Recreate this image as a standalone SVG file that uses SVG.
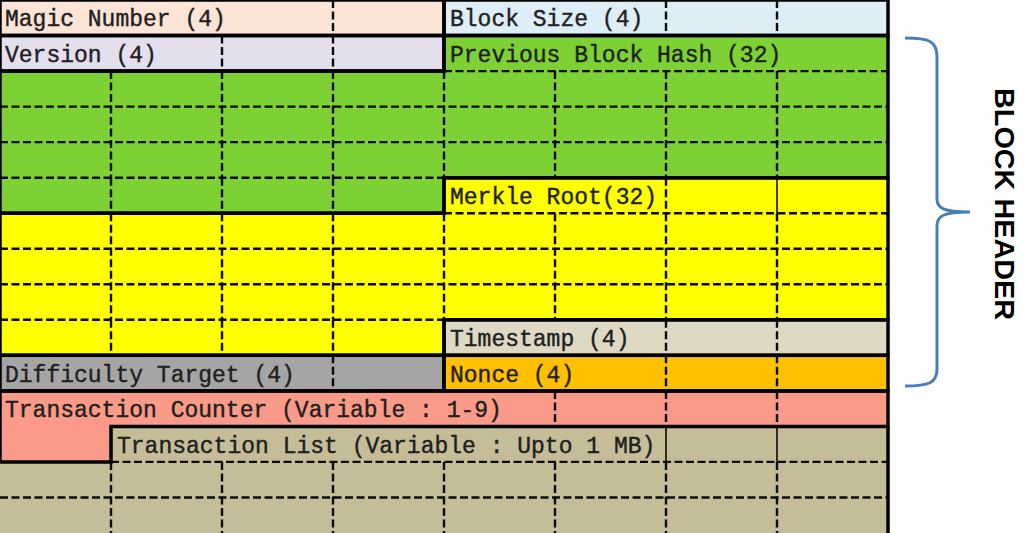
<svg xmlns="http://www.w3.org/2000/svg" width="1025" height="533" viewBox="0 0 1025 533">
<style>
.fld{stroke:#000;stroke-width:3.5;stroke-linejoin:miter}
.lbl{font-family:"Liberation Mono","DejaVu Sans Mono",monospace;font-size:23px;fill:#1f1f1f;stroke:#1f1f1f;stroke-width:0.4}
.d{stroke:#0a0a0a;stroke-width:2.4;stroke-dasharray:8 3.5;fill:none}
.s{stroke:#000;stroke-width:1.5;fill:none}
</style>
<rect x="0" y="0" width="1025" height="533" fill="#fff"/>
<g id="fills">
<rect x="0" y="0" width="444" height="35.5" fill="#FCE4D6"/>
<rect x="444" y="0" width="444" height="35.5" fill="#DDEEF6"/>
<rect x="0" y="35.5" width="444" height="35.6" fill="#E4DFEC"/>
<polygon points="444,35.5 888,35.5 888,177.7 444,177.7 444,213.2 0,213.2 0,71.1 444,71.1" fill="#7DD134"/>
<polygon points="444,177.7 888,177.7 888,319.8 444,319.8 444,355.3 0,355.3 0,213.2 444,213.2" fill="#FFFF00"/>
<rect x="444" y="319.8" width="444" height="35.5" fill="#DDD9C3"/>
<rect x="0" y="355.3" width="444" height="35.6" fill="#A5A5A5"/>
<rect x="444" y="355.3" width="444" height="35.6" fill="#FFC000"/>
<polygon points="0,390.9 888,390.9 888,426.4 111,426.4 111,461.9 0,461.9" fill="#FA9A88"/>
<polygon points="111,426.4 888,426.4 888,461.9 888,533 0,533 0,461.9 111,461.9" fill="#C4BD97"/>
</g>
<g id="connectors">
<g id="dashed">
<path class="d" d="M444,71.1H888 M0,106.6H888 M0,142.1H888 M0,177.7H444 M444,213.2H888 M0,248.7H888 M0,284.3H888 M0,319.8H444 M111,461.9H888 M0,497.5H888"/>
<path class="d" d="M333,0V35.5 M666,0V35.5 M777,0V35.5 M222,35.5V71.1 M333,35.5V71.1"/>
<path class="d" d="M111,71.1V177.7 M222,71.1V177.7 M333,71.1V177.7 M444,71.1V177.7 M555,71.1V177.7 M666,71.1V177.7 M777,71.1V177.7"/>
<path class="d" d="M111,177.7V213.2 M222,177.7V213.2 M333,177.7V213.2 M666,177.7V213.2"/>
<path class="d" d="M111,213.2V319.8 M222,213.2V319.8 M333,213.2V319.8 M444,213.2V319.8 M555,213.2V319.8 M666,213.2V319.8 M777,213.2V319.8"/>
<path class="d" d="M111,319.8V355.3 M222,319.8V355.3 M333,319.8V355.3 M666,319.8V355.3 M777,319.8V355.3"/>
<path class="d" d="M333,355.3V390.9 M666,355.3V390.9 M777,355.3V390.9"/>
<path class="d" d="M555,390.9V426.4 M666,390.9V426.4 M777,390.9V426.4"/>
<path class="d" d="M111,426.4V461.9"/>
<path class="d" d="M111,461.9V533 M222,461.9V533 M333,461.9V533 M444,461.9V533 M555,461.9V533 M666,461.9V533 M777,461.9V533"/>
</g>
<path class="s" d="M777,177.7V213.2 M666,426.4V461.9 M777,426.4V461.9"/>
<path id="brace" d="M905,38 C929,38 937,41 937,57 L937,199 C937,208 943,212 970,212 C943,212 937,216 937,226 L937,369 C937,383 929,386 905,386" fill="none" stroke="#4A7EBB" stroke-width="3"/>
</g>
<g id="magic-number">
<rect class="fld" x="0" y="0" width="444" height="35.5" fill="none"/>
<text class="lbl" x="5" y="26">Magic Number (4)</text>
</g>
<g id="block-size">
<rect class="fld" x="444" y="0" width="444" height="35.5" fill="none"/>
<text class="lbl" x="450" y="26">Block Size (4)</text>
</g>
<g id="version">
<rect class="fld" x="0" y="35.5" width="444" height="35.6" fill="none"/>
<text class="lbl" x="5" y="61.5">Version (4)</text>
</g>
<g id="previous-block-hash">
<polygon class="fld" points="444,35.5 888,35.5 888,177.7 444,177.7 444,213.2 0,213.2 0,71.1 444,71.1" fill="none"/>
<text class="lbl" x="450" y="61.5">Previous Block Hash (32)</text>
</g>
<g id="merkle-root">
<polygon class="fld" points="444,177.7 888,177.7 888,319.8 444,319.8 444,355.3 0,355.3 0,213.2 444,213.2" fill="none"/>
<text class="lbl" x="450" y="203.5">Merkle Root(32)</text>
</g>
<g id="timestamp">
<rect class="fld" x="444" y="319.8" width="444" height="35.5" fill="none"/>
<text class="lbl" x="450" y="346">Timestamp (4)</text>
</g>
<g id="difficulty-target">
<rect class="fld" x="0" y="355.3" width="444" height="35.6" fill="none"/>
<text class="lbl" x="5" y="381.5">Difficulty Target (4)</text>
</g>
<g id="nonce">
<rect class="fld" x="444" y="355.3" width="444" height="35.6" fill="none"/>
<text class="lbl" x="450" y="381.5">Nonce (4)</text>
</g>
<g id="transaction-counter">
<polygon class="fld" points="0,390.9 888,390.9 888,426.4 111,426.4 111,461.9 0,461.9" fill="none"/>
<text class="lbl" x="5" y="417">Transaction Counter (Variable : 1-9)</text>
</g>
<g id="transaction-list">
<polyline class="fld" points="888,426.4 888,533" fill="none"/>
<text class="lbl" x="117" y="452.5">Transaction List (Variable : Upto 1 MB)</text>
</g>
<g id="block-header-label">
<text x="995" y="88" transform="rotate(90 995 88)" font-family="'Liberation Sans',Arial,sans-serif" font-weight="bold" font-size="28" fill="#000" textLength="232" lengthAdjust="spacingAndGlyphs">BLOCK HEADER</text>
</g>
</svg>
